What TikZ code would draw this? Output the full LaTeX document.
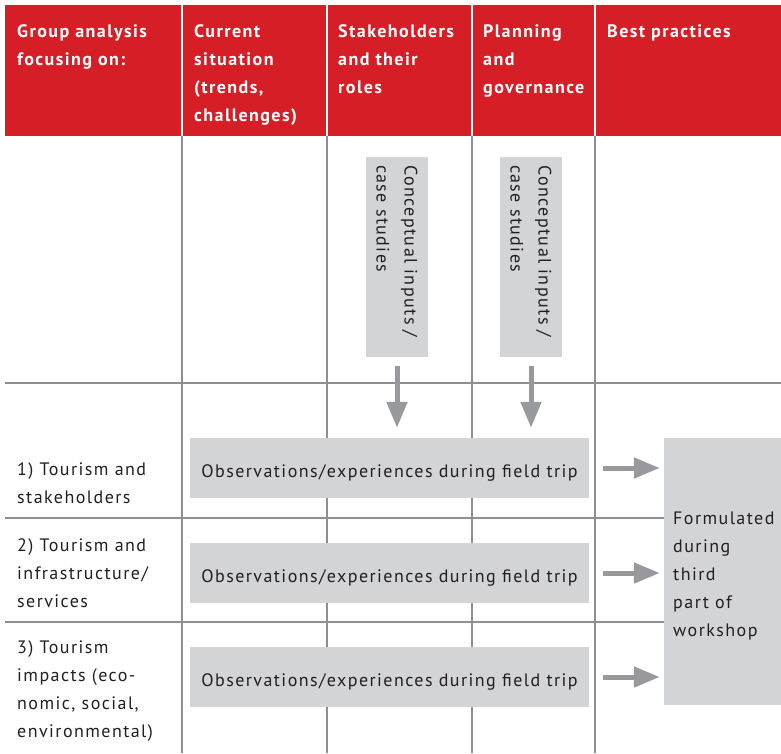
\documentclass[tikz,border=0pt]{standalone}
\usepackage{fontspec}
\setmainfont{PT Sans}[LetterSpace=8]
\usepackage{tikz}
\usetikzlibrary{arrows.meta}
\definecolor{hdrred}{RGB}{214,30,38}
\definecolor{boxgray}{RGB}{211,212,214}
\definecolor{arrgray}{RGB}{152,153,156}
\definecolor{gridgray}{RGB}{142,142,142}
\definecolor{txtgray}{RGB}{35,31,32}

\tikzset{
	hdr/.style={anchor=north west, inner sep=0pt, align=left, text=white,
		font=\fontsize{18}{28}\selectfont\bfseries},
	rowlbl/.style={anchor=west, inner sep=0pt, align=left, text=txtgray,
		font=\fontsize{18}{28}\selectfont},
	obsbox/.style={fill=boxgray, minimum width=399pt, minimum height=60pt,
		inner sep=0pt, text height=18pt, text depth=0pt, text=txtgray,
		font=\fontsize{18}{28}\selectfont},
	inbox/.style={fill=boxgray, rotate=-90, minimum width=200pt, minimum height=62pt,
		text width=184pt, inner sep=8pt, align=left, text=txtgray,
		font=\fontsize{18}{28}\selectfont},
	bigarrow/.style={arrgray, line width=5pt, -{Triangle[length=26pt,width=20pt]}},
}

\begin{document}
\begin{tikzpicture}[x=1pt,y=-1pt]
		\useasboundingbox (0,0) rectangle (781,753);

		% header band
		\fill[hdrred] (5,5) rectangle (781,136);
		\foreach \cx in {182,327,472,595}
			\draw[white, line width=1.5pt] (\cx,5) -- (\cx,136);

		\node[hdr] (hgroup) at (17,24) {Group analysis\\focusing on:};
		\node[hdr] (hcurrent) at (194,24) {Current\\situation\\(trends,\\challenges)};
		\node[hdr] (hstake) at (338,24) {Stakeholders\\and their\\roles};
		\node[hdr] (hplan) at (483,24) {Planning\\and\\governance};
		\node[hdr] (hbest) at (607,24) {Best practices};

		% grid
		\foreach \cx in {182,327,472,595}
			\draw[gridgray, line width=1.5pt] (\cx,136) -- (\cx,753);
		\foreach \ry in {383,518,622}
			\draw[gridgray, line width=1.5pt] (5,\ry) -- (781,\ry);

		% row labels
		\node[rowlbl] (row1) at (17,483) {1) Tourism and\\stakeholders};
		\node[rowlbl] (row2) at (17,573) {2) Tourism and\\infrastructure/\\services};
		\node[rowlbl] (row3) at (17,691) {3) Tourism\\impacts (eco-\\nomic, social,\\environmental)};

		% inputs
		\node[inbox] (cin1) at (397,257) {Conceptual inputs /\\case studies};
		\node[inbox] (cin2) at (531,257) {Conceptual inputs /\\case studies};

		\node[obsbox] (obs1) at (389.5,468) {Observations/experiences during field trip};
		\node[obsbox] (obs2) at (389.5,573) {Observations/experiences during field trip};
		\node[obsbox] (obs3) at (389.5,677) {Observations/experiences during field trip};

		\node[fill=boxgray, minimum width=117pt, minimum height=267pt] (formul) at (722.5,571.5) {};
		\node[anchor=west, inner sep=0pt, align=left, text=txtgray, font=\fontsize{18}{28}\selectfont]
			(formtxt) at (673,575.5) {Formulated\\during\\third\\part of\\workshop};

		% arrows (cin nodes are turned, so their east is the lower side)
		\draw[bigarrow, shorten <=9pt, shorten >=10pt] (cin1.east) -- (cin1.east |- obs1.north);
		\draw[bigarrow, shorten <=9pt, shorten >=10pt] (cin2.east) -- (cin2.east |- obs1.north);
		\foreach \o in {obs1,obs2,obs3}
			\draw[bigarrow, shorten <=14pt, shorten >=4pt] (\o.east) -- (\o.east -| formul.west);

	\end{tikzpicture}
\end{document}
